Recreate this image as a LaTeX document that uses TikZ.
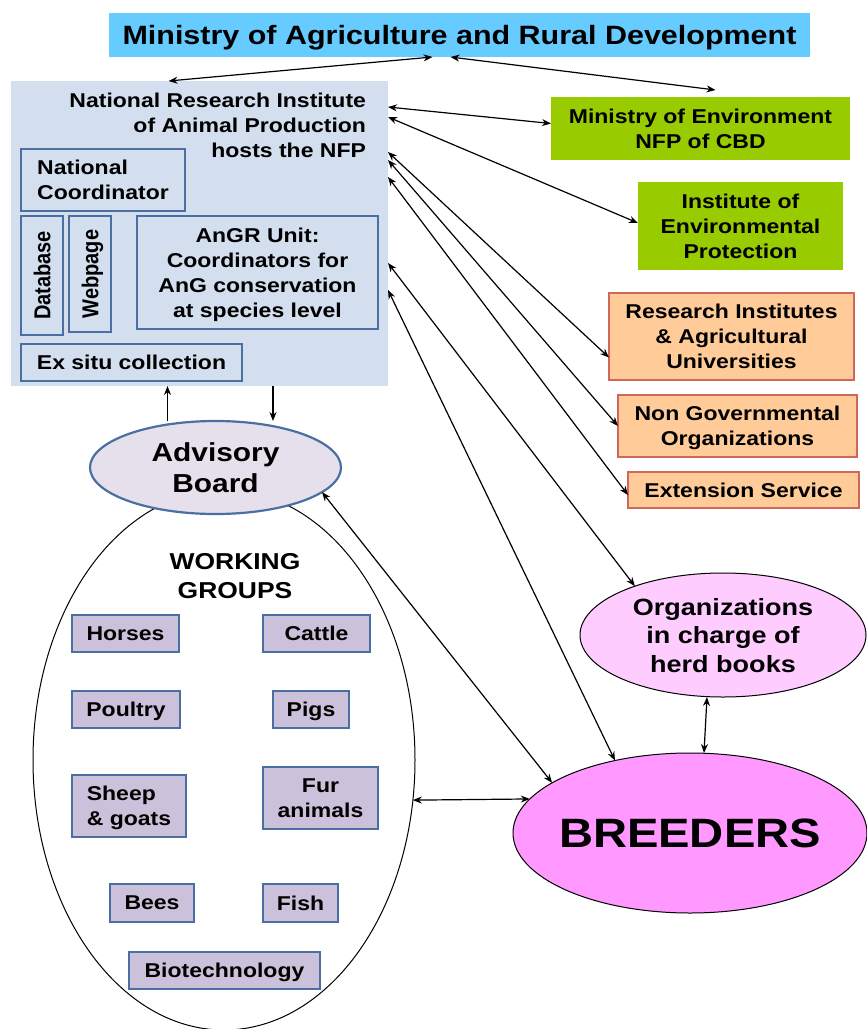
\documentclass[tikz,border=0pt]{standalone}
\usepackage{fontspec}
\setmainfont{Liberation Sans}[FakeStretch=1.15]
\newfontfamily\uprightfont{Liberation Sans}
\usetikzlibrary{positioning,shapes.geometric,arrows.meta}
\definecolor{ministryblue}{HTML}{66CCFF}
\definecolor{instfill}{HTML}{D3DFEE}
\definecolor{unitline}{HTML}{4A6FA0}
\definecolor{envgreen}{HTML}{99CC00}
\definecolor{partnerfill}{HTML}{FFCC99}
\definecolor{partnerline}{HTML}{D0675A}
\definecolor{boardfill}{HTML}{E6E0EC}
\definecolor{groupfill}{HTML}{CCC1DA}
\definecolor{herdfill}{HTML}{FFCCFF}
\definecolor{breederfill}{HTML}{FF99FF}
\newcommand{\txtsize}[2]{\fontsize{#1}{#2}\selectfont\bfseries}
\newcommand{\tall}[1]{\scalebox{1}[1.15]{#1}}

\begin{document}
\begin{tikzpicture}[x=1pt, y=-1pt,
        base/.style={outer sep=0pt, inner sep=2pt, text depth=0pt, align=center, font=\txtsize{20}{25}},
        ministry/.style={base, fill=ministryblue, font=\txtsize{26.5}{30}},
        unit/.style={base, draw=unitline, line width=1.3pt, fill=instfill},
        green/.style={base, fill=envgreen},
        partner/.style={base, draw=partnerline, line width=1.3pt, fill=partnerfill},
        group/.style={base, draw=unitline, line width=1.3pt, fill=groupfill},
        oval/.style={ellipse, outer sep=0pt, inner sep=0pt, text depth=0pt, align=center},
        conn/.style={line width=1.2pt, {Stealth[length=9pt,width=7pt]}-{Stealth[length=9pt,width=7pt]}},
        oneway/.style={line width=1.2pt, -{Stealth[length=9pt,width=7pt]}}
    ]
        \useasboundingbox (0,0) rectangle (867,1029);

        % Nodes
        \node[ministry, minimum width=701pt, minimum height=44pt] (title) at (459.5,35)
            {Ministry of Agriculture and Rural Development};

        \node[base, fill=instfill, minimum width=377pt, minimum height=305pt] (nri) at (199.5,233.5) {};
        \node[base, align=right, anchor=north east, inner sep=0pt] (nritext) at (366,93)
            {\txtsize{20}{23.5}National Research Institute\\of Animal Production\\hosts the NFP};
        \node[unit, align=left, minimum width=164pt, minimum height=62pt] (coord) at (103,180)
            {National\\Coordinator};
        \node[unit, rotate=90, minimum width=119pt, minimum height=42pt,
            font=\uprightfont\txtsize{20}{25}] (db) at (42,275.5) {\tall{Database}};
        \node[unit, rotate=90, minimum width=116pt, minimum height=42pt,
            font=\uprightfont\txtsize{20}{25}] (web) at (90,274) {\tall{Webpage}};
        \node[unit, minimum width=241pt, minimum height=113pt] (angr) at (257.5,272.5)
            {AnGR Unit:\\Coordinators for\\AnG conservation\\at species level};
        \node[unit, minimum width=221pt, minimum height=37pt] (exsitu) at (131.5,362.5)
            {Ex situ collection};

        \node[green, minimum width=299pt, minimum height=63pt] (env) at (700.5,128.5)
            {Ministry of Environment\\NFP of CBD};
        \node[green, minimum width=205pt, minimum height=88pt] (iep) at (740.5,226)
            {Institute of\\Environmental\\Protection};
        \node[partner, minimum width=245pt, minimum height=87pt] (resinst) at (731.5,336.5)
            {Research Institutes\\\& Agricultural\\Universities};
        \node[partner, minimum width=239pt, minimum height=62pt] (ngo) at (737.5,426)
            {Non Governmental\\Organizations};
        \node[partner, minimum width=231pt, minimum height=36pt] (ext) at (743.5,490)
            {Extension Service};

        \node[oval, draw, line width=1pt, minimum width=382pt, minimum height=540pt] (wg) at (224,760) {};
        \node[oval, draw=unitline, line width=2.2pt, fill=boardfill, minimum width=251pt,
            minimum height=93pt, font=\txtsize{26}{31}] (adv) at (215.5,467.5) {Advisory\\Board};
        \node[base, font=\txtsize{23}{29}] (wgtitle) at (235,576) {WORKING\\GROUPS};

        \node[group, minimum width=107pt, minimum height=37pt] (horses) at (125.5,633.5) {Horses};
        \node[group, minimum width=107pt, minimum height=37pt] (cattle) at (316.5,633.5) {Cattle};
        \node[group, minimum width=108pt, minimum height=37pt] (poultry) at (126,709.5) {Poultry};
        \node[group, minimum width=76pt, minimum height=37pt] (pigs) at (311,709.5) {Pigs};
        \node[group, align=left, minimum width=114pt, minimum height=62pt] (sheep) at (129,806)
            {Sheep\\\& goats};
        \node[group, minimum width=115pt, minimum height=62pt] (fur) at (320.5,798) {Fur\\animals};
        \node[group, minimum width=84pt, minimum height=38pt] (bees) at (152,903) {Bees};
        \node[group, minimum width=75pt, minimum height=38pt] (fish) at (300.5,903) {Fish};
        \node[group, minimum width=191pt, minimum height=37pt] (biotech) at (224.5,970.5) {Biotechnology};

        \node[oval, draw, line width=1pt, fill=herdfill, minimum width=286pt, minimum height=124pt,
            font=\txtsize{23.5}{28.5}] (org) at (723,635) {Organizations\\in charge of\\herd books};
        \node[oval, draw, line width=1pt, fill=breederfill, minimum width=354pt, minimum height=160pt,
            label={[font=\txtsize{41}{45}, text depth=0pt]center:BREEDERS}] (breed) at (690,833) {};

        % Edges
        \draw[conn] ([xshift=-27pt]title.south) -- ([xshift=-31pt]nri.north);
        \draw[conn] ([xshift=-9pt]title.south) -- ([xshift=15pt,yshift=7pt]env.north);
        \draw[conn] ([yshift=-26pt]nri.north east) -- ([yshift=5pt]env.west);
        \draw[conn] ([yshift=-36pt]nri.north east) -- ([yshift=3pt]iep.west);
        \draw[conn] ([yshift=-71pt]nri.north east) -- ([yshift=-21pt]resinst.west);
        \draw[conn] ([yshift=-79pt]nri.north east) -- (ngo.west);
        \draw[conn] ([yshift=-96pt]nri.north east) -- ([yshift=-5pt]ext.west);
        \draw[conn] ([yshift=-182pt]nri.north east) -- (org.151);
        \draw[conn] ([yshift=-209pt]nri.north east) -- (breed.136);
        \draw[conn] (adv.-13) -- (breed.160);
        \draw[conn] (wg.-12) -- (breed.168);
        \draw[conn] ([xshift=-16pt]org.south) -- ([xshift=14pt]breed.north);
        \draw[oneway] ([xshift=-48pt]adv.north) -- ([xshift=-32pt]nri.south);
        \draw[oneway] ([xshift=73.5pt]nri.south) -- ([xshift=57.5pt]adv.north);
    \end{tikzpicture}
\end{document}
